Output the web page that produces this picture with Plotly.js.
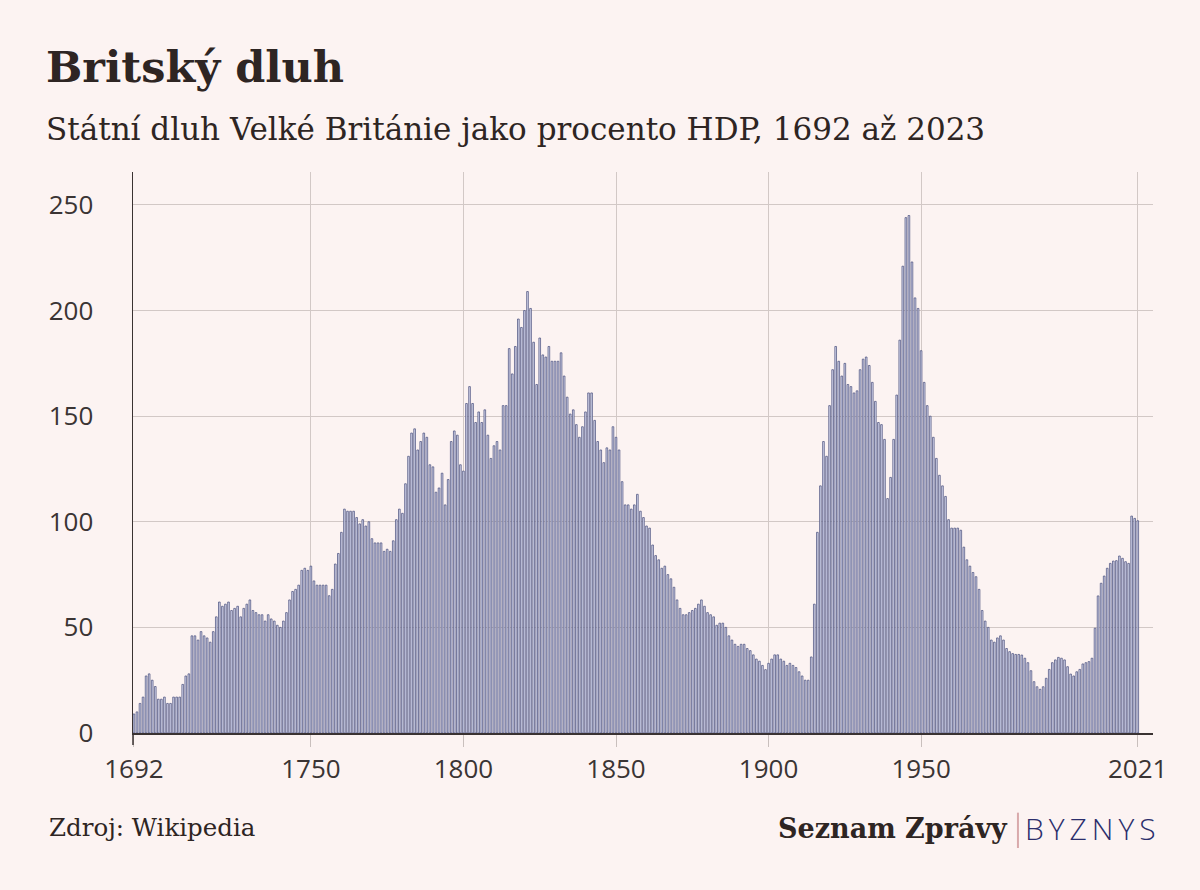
<!DOCTYPE html>
<html>
<head>
<meta charset="utf-8">
<script src="https://cdn.plot.ly/plotly-3.0.1.min.js"></script>
<style>
  html, body { margin: 0; padding: 0; background: #fcf3f2; }
  #chart { width: 1200px; height: 890px; }
</style>
</head>
<body>
<div id="chart"></div>
<script>
const firstYear = 1692;
const debtPctGdp = [
  9,10,14,17,27,28,25,22,16,16,
  17,14,14,17,17,17,23,27,28,46,
  46,44,48,46,45,43,48,55,62,60,
  61,62,58,59,60,55,59,61,63,58,
  57,56,56,53,56,54,53,51,50,53,
  57,63,67,68,70,77,78,77,79,72,
  70,70,70,70,65,68,80,85,95,106,
  105,105,105,102,99,101,98,100,92,90,
  90,90,86,87,86,91,101,106,104,118,
  131,142,144,134,138,142,140,127,126,114,
  116,123,108,120,138,143,141,127,124,156,
  164,156,147,152,147,153,141,130,136,138,
  134,155,155,182,170,183,196,192,200,209,
  201,185,165,187,179,178,183,176,176,176,
  180,169,159,151,153,146,140,145,152,161,
  161,148,138,134,128,135,134,145,140,134,
  119,108,108,106,108,113,105,102,98,97,
  89,84,82,78,79,75,73,69,63,59,
  56,56,57,58,59,61,63,60,57,56,
  55,51,52,52,50,46,44,42,41,42,
  42,40,39,37,35,34,32,30,33,35,
  37,37,35,34,32,33,32,31,29,27,
  25,25,36,61,95,117,138,131,155,172,
  183,176,169,175,165,164,161,162,172,177,
  178,174,166,157,147,146,139,111,121,139,
  160,186,221,244,245,223,206,201,181,166,
  155,150,140,130,122,117,112,101,97,97,
  97,96,88,82,79,76,74,68,58,53,
  50,44,43,45,46,44,40,38.5,37.6,37.2,
  37.2,36.9,35.4,33.3,29.5,24.3,21.9,20.7,21.9,25.9,
  30.1,33.3,34.6,35.8,35.4,34.6,31.4,27.9,27,29,
  30.1,32.7,33.3,33.8,35.4,49.6,64.9,70.9,74.3,78,
  80.3,81.4,81.6,83.8,82.7,81.1,80.3,102.7,101.6,100.5
];
const years = debtPctGdp.map((v, i) => firstYear + i);
const xTickYears = [1692, 1750, 1800, 1850, 1900, 1950, 2021];
const yTickValues = [0, 50, 100, 150, 200, 250];

const titleText = 'Britský dluh';
const subtitleText = 'Státní dluh Velké Británie jako procento HDP, 1692 až 2023';
const sourceText = 'Zdroj: Wikipedia';
const brandText = 'Seznam Zprávy';
const sectionText = 'BYZNYS';

const textColor = '#2e2523';
const serif = '"DejaVu Serif", serif';
const sans = '"Open Sans", sans-serif';

const trace = {
  type: 'bar',
  x: years,
  y: debtPctGdp,
  width: 0.55,
  marker: { color: '#d6d8ee', line: { color: '#454a78', width: 0.7 } },
  hoverinfo: 'x+y'
};

const layout = {
  width: 1200, height: 890,
  paper_bgcolor: '#fcf3f2',
  plot_bgcolor: '#fcf3f2',
  margin: { l: 133, r: 47, t: 172, b: 157 },
  showlegend: false,
  bargap: 0,
  xaxis: {
    type: 'linear',
    range: [1691.7, 2026],
    tickmode: 'array',
    tickvals: xTickYears,
    ticktext: xTickYears.map(String),
    showgrid: true,
    gridcolor: '#d2c8c6',
    gridwidth: 1,
    ticks: 'outside',
    ticklen: 12,
    tickcolor: '#c9bfbd',
    showline: true,
    linecolor: '#3a3232',
    linewidth: 1.5,
    zeroline: false,
    tickfont: { family: sans, size: 26, color: '#3a3434' },
    fixedrange: true
  },
  yaxis: {
    range: [0, 265.6],
    tickmode: 'array',
    tickvals: yTickValues,
    showgrid: true,
    gridcolor: '#d2c8c6',
    gridwidth: 1,
    zeroline: false,
    showline: true,
    linecolor: '#3a3232',
    linewidth: 1.5,
    ticks: 'outside',
    ticklen: 33,
    tickcolor: 'rgba(0,0,0,0)',
    tickfont: { family: sans, size: 26, color: '#3a3434' },
    fixedrange: true
  },
  annotations: [
    { xref: 'paper', yref: 'paper', x: -0.0873, y: 1.187, xanchor: 'left', yanchor: 'middle',
      text: '<b>' + titleText + '</b>', showarrow: false,
      font: { family: serif, size: 43, color: textColor } },
    { xref: 'paper', yref: 'paper', x: -0.0873, y: 1.0766, xanchor: 'left', yanchor: 'middle',
      text: subtitleText, showarrow: false,
      font: { family: serif, size: 31, color: textColor } },
    { xref: 'paper', yref: 'paper', x: -0.0843, y: -0.1693, xanchor: 'left', yanchor: 'middle',
      text: sourceText, showarrow: false,
      font: { family: serif, size: 24.5, color: textColor } },
    { xref: 'paper', yref: 'paper', x: 0.8598, y: -0.171, xanchor: 'right', yanchor: 'middle',
      text: '<b>' + brandText + '</b>', showarrow: false,
      font: { family: serif, size: 27, color: textColor } },
    { xref: 'paper', yref: 'paper', x: 0.8725, y: -0.171, xanchor: 'left', yanchor: 'middle',
      text: sectionText.split('').join('\u2009'), showarrow: false,
      font: { family: sans, size: 30, color: '#2b2e6c', weight: 300 } }
  ],
  shapes: [
    { type: 'line', xref: 'paper', yref: 'paper', x0: 0.8676, x1: 0.8676, y0: -0.142, y1: -0.205,
      line: { color: '#d9a9ab', width: 2 } },
    { type: 'line', xref: 'paper', yref: 'paper', x0: 0, x1: 0, y0: 0, y1: -0.0214,
      line: { color: '#3a3232', width: 1.5 } }
  ]
};

Plotly.newPlot('chart', [trace], layout, { displayModeBar: false, staticPlot: true });
</script>
</body>
</html>
